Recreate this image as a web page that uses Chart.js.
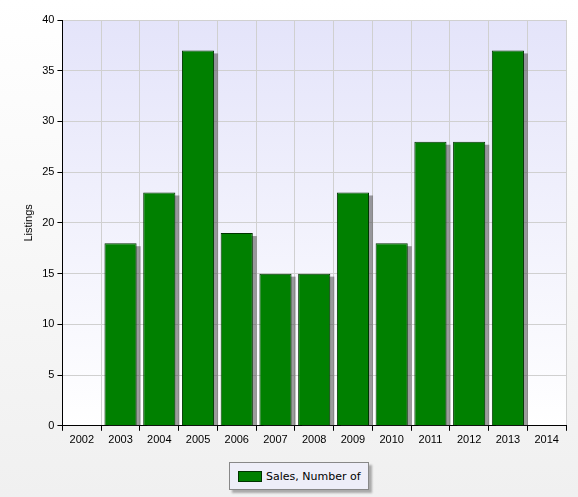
<!DOCTYPE html><html><head><script src="https://cdn.jsdelivr.net/npm/chart.js@4/dist/chart.umd.min.js"></script>
<style>body{margin:0;background:linear-gradient(#ffffff,#f0f0f0);width:578px;height:497px;overflow:hidden;font-family:"DejaVu Sans",sans-serif}
#wrap{position:absolute;left:0;top:0;width:578px;height:450px}
#leg{position:absolute;left:229px;top:462px;width:138px;height:26px;border:1px solid #888;background:#eeeef8;box-shadow:3px 3px 2px #aaa;font-size:11px;display:flex;align-items:center}
#leg span.b{display:inline-block;width:22px;height:9px;background:#008000;border:1px solid #003300;margin:0 4px 0 8px}</style></head><body>
<div id="wrap"><canvas id="c" width="578" height="450"></canvas></div><div id="leg"><span class="b"></span>Sales, Number of</div>
<script>
const years=[2003,2004,2005,2006,2007,2008,2009,2010,2011,2012,2013];
const sales=[18,23,37,19,15,15,23,18,28,28,37];
const xTicks=[2002,2003,2004,2005,2006,2007,2008,2009,2010,2011,2012,2013,2014];
const bg={id:'bg',beforeDraw(ch){const a=ch.chartArea,c=ch.ctx;const g=c.createLinearGradient(0,a.top,0,a.bottom);g.addColorStop(0,'#e4e4fa');g.addColorStop(1,'#ffffff');c.fillStyle=g;c.fillRect(a.left,a.top,a.right-a.left,a.bottom-a.top);},
beforeDatasetsDraw(ch){const c=ch.ctx;c.fillStyle='rgba(90,90,90,0.6)';ch.getDatasetMeta(0).data.forEach(b=>{const w=b.width;c.fillRect(b.x-w/2+4,b.y+3,w,b.base-b.y-3);});}};
new Chart(document.getElementById('c'),{type:'bar',data:{datasets:[{label:'Sales, Number of',data:years.map((y,i)=>({x:y,y:sales[i]})),backgroundColor:'#008000',borderColor:'#003300',borderWidth:1,barPercentage:1,categoryPercentage:0.83}]},
options:{animation:false,responsive:false,devicePixelRatio:1,layout:{padding:{left:18,right:12,top:20}},plugins:{legend:{display:false},tooltip:{enabled:false}},
scales:{x:{type:'linear',min:2002,max:2014,afterBuildTicks(s){s.ticks=xTicks.map(v=>({value:v}));},ticks:{color:'#000',font:{size:11},callback:v=>String(v),maxRotation:0},grid:{color:'#d0d0d0',tickLength:5,tickColor:'#000'},border:{color:'#000'}},
y:{min:0,max:40,ticks:{stepSize:5,color:'#000',font:{size:11}},grid:{color:'#d0d0d0',tickLength:5,tickColor:'#000'},border:{color:'#000'},title:{display:true,text:'Listings',color:'#000',font:{size:11}}}}},plugins:[bg]});
</script></body></html>
